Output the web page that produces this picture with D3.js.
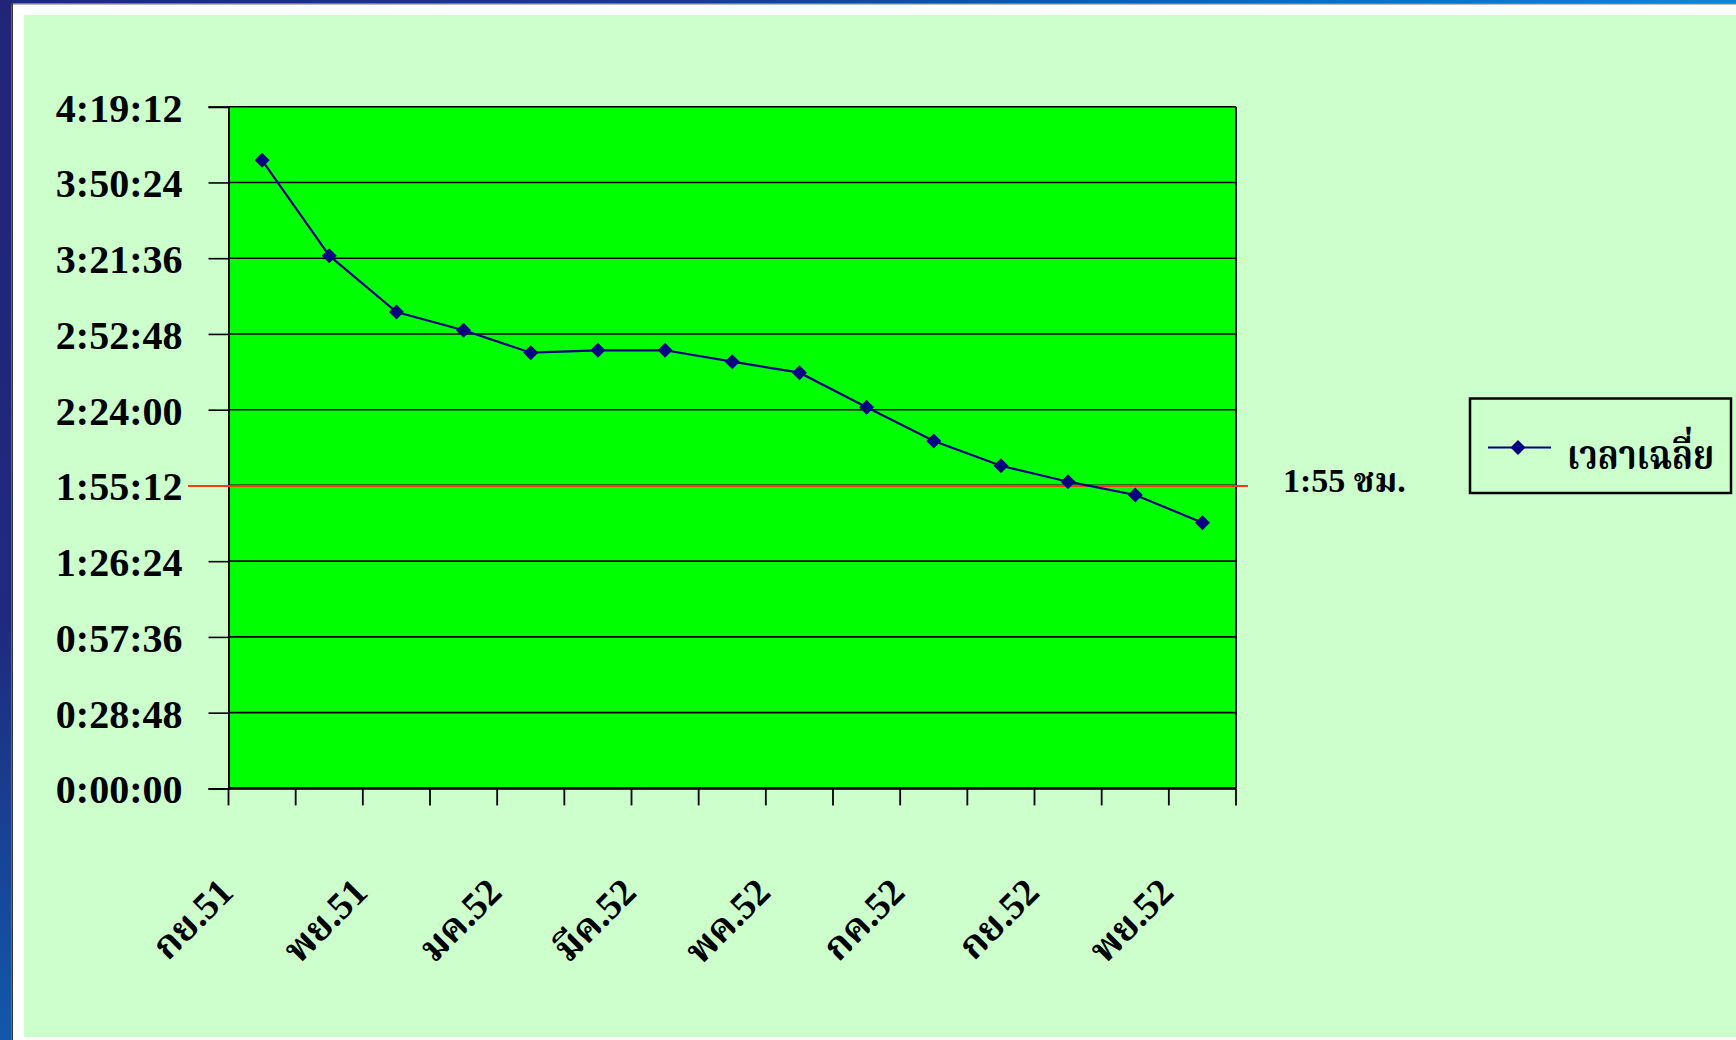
<!DOCTYPE html>
<html><head><meta charset="utf-8">
<script src="https://cdn.jsdelivr.net/npm/d3@7"></script>
<style>body{margin:0;background:#ccffcc;} svg{display:block}</style>
</head><body><svg id="c" width="1736" height="1040"></svg>
<script>
const categories = ["กย.51","ตค.51","พย.51","ธค.51","มค.52","กพ.52","มีค.52","เมย.52","พค.52","มิย.52","กค.52","สค.52","กย.52","ตค.52","พย.52"];
const shownCategories = ["กย.51","พย.51","มค.52","มีค.52","พค.52","กค.52","กย.52","พย.52"];
const avgTime = ["3:58:49","3:22:33","3:01:08","2:54:11","2:45:40","2:46:35","2:46:35","2:42:15","2:38:04","2:24:54","2:12:06","2:02:42","1:56:37","1:51:34","1:41:02"];
const yTickLabels = ["0:00:00","0:28:48","0:57:36","1:26:24","1:55:12","2:24:00","2:52:48","3:21:36","3:50:24","4:19:12"];
const targetTime = "1:55:00";
const targetLabel = "1:55 ชม.";
const seriesName = "เวลาเฉลี่ย";

const toSec = s => { const p = s.split(":").map(Number); return p[0]*3600 + p[1]*60 + p[2]; };
const fmt = v => { const h = Math.floor(v/3600), m = Math.floor((v%3600)/60), s = Math.round(v%60); return h + ":" + String(m).padStart(2,"0") + ":" + String(s).padStart(2,"0"); };

const W = 1736, H = 1040;
const svg = d3.select("#c");
const FONT = "'Liberation Serif','Times New Roman','Noto Serif Thai','Noto Sans Thai',serif";

// slide frame
const defs = svg.append("defs");
const gTop = defs.append("linearGradient").attr("id","gTop").attr("x1","0").attr("x2","1");
gTop.append("stop").attr("offset","0").attr("stop-color","#1d2a78");
gTop.append("stop").attr("offset","0.4").attr("stop-color","#123e8c");
gTop.append("stop").attr("offset","0.75").attr("stop-color","#0c6cc0");
gTop.append("stop").attr("offset","1").attr("stop-color","#0a86d6");
const gLeft = defs.append("linearGradient").attr("id","gLeft").attr("x1","0").attr("x2","0").attr("y1","0").attr("y2","1");
gLeft.append("stop").attr("offset","0").attr("stop-color","#222478");
gLeft.append("stop").attr("offset","0.6").attr("stop-color","#1f2a7e");
gLeft.append("stop").attr("offset","1").attr("stop-color","#1258aa");

svg.append("rect").attr("width",W).attr("height",H).attr("fill","#ccffcc");
svg.append("rect").attr("x",0).attr("y",0).attr("width",W).attr("height",15).attr("fill","#ffffff");
svg.append("rect").attr("x",0).attr("y",0).attr("width",24).attr("height",H).attr("fill","#ffffff");
svg.append("rect").attr("x",0).attr("y",1037).attr("width",W).attr("height",3).attr("fill","#ffffff");
svg.append("rect").attr("x",0).attr("y",0).attr("width",W).attr("height",3).attr("fill","url(#gTop)");
svg.append("rect").attr("x",0).attr("y",3).attr("width",W).attr("height",1.5).attr("fill","#7a7a7a");
svg.append("rect").attr("x",0).attr("y",0).attr("width",11.5).attr("height",H).attr("fill","url(#gLeft)");
svg.append("rect").attr("x",11.5).attr("y",3).attr("width",1.5).attr("height",H).attr("fill","#333333");

// plot geometry
const L = 228.5, R = 1236, T = 106.7, B = 788.4;
const x = d3.scaleBand().domain(categories).range([L, R]).padding(0);
const yMax = toSec(yTickLabels[yTickLabels.length-1]);
const y = d3.scaleLinear().domain([0, yMax]).range([B, T]);
const cx = c => x(c) + x.bandwidth()/2;

svg.append("rect").attr("x",L).attr("y",T).attr("width",R-L).attr("height",B-T).attr("fill","#00ff00");

// gridlines
const yTicks = yTickLabels.map(toSec);
svg.append("g").selectAll("line").data(yTicks).join("line")
  .attr("x1",L).attr("x2",R).attr("y1",d=>y(d)).attr("y2",d=>y(d))
  .attr("stroke","#000").attr("stroke-width",1.6);

// y axis
const yAxis = d3.axisLeft(y).tickValues(yTicks).tickFormat(fmt).tickSize(20).tickPadding(26);
const gy = svg.append("g").attr("transform",`translate(${L},0)`).call(yAxis);
gy.select(".domain").attr("stroke","#000").attr("stroke-width",2);
gy.selectAll(".tick line").attr("stroke","#000").attr("stroke-width",1.6);
gy.selectAll("text").attr("font-family",FONT).attr("font-weight","bold").attr("font-size",40).attr("fill","#000").attr("dy","0.36em");

// right border
svg.append("line").attr("x1",R).attr("x2",R).attr("y1",T).attr("y2",B).attr("stroke","#000").attr("stroke-width",2);

// x axis
const xTickScale = d3.scaleLinear().domain([0, categories.length]).range([L, R]);
const gx = svg.append("g").attr("transform",`translate(0,${B})`);
gx.append("line").attr("x1",L).attr("x2",R).attr("stroke","#000").attr("stroke-width",2.5);
gx.selectAll("line.tk").data(d3.range(categories.length+1)).join("line").attr("class","tk")
  .attr("x1",d=>xTickScale(d)).attr("x2",d=>xTickScale(d)).attr("y1",0).attr("y2",17)
  .attr("stroke","#000").attr("stroke-width",1.8);
gx.selectAll("text").data(shownCategories).join("text")
  .attr("transform",d=>`translate(${cx(d)-27},${106}) rotate(-45)`)
  .attr("text-anchor","end")
  .attr("font-family",FONT).attr("font-weight","bold").attr("font-size",38).attr("fill","#000")
  .text(d=>d);

// target line
const tY = y(toSec(targetTime));
svg.append("line").attr("x1",188).attr("x2",1248).attr("y1",tY).attr("y2",tY).attr("stroke","#ff3a10").attr("stroke-width",2);
svg.append("text").attr("x",1283).attr("y",tY+6).attr("font-family",FONT).attr("font-weight","bold").attr("font-size",34).attr("fill","#000").text(targetLabel);

// series
const data = categories.map((c,i)=>({c, v: toSec(avgTime[i])}));
const NAVY = "#000080";
svg.append("path").datum(data)
  .attr("d", d3.line().x(d=>cx(d.c)).y(d=>y(d.v)))
  .attr("fill","none").attr("stroke",NAVY).attr("stroke-width",2.2);
const diamond = "M0,-7.5L7.5,0L0,7.5L-7.5,0Z";
svg.append("g").selectAll("path").data(data).join("path")
  .attr("d",diamond).attr("transform",d=>`translate(${cx(d.c)},${y(d.v)})`).attr("fill",NAVY);

// legend
const lg = svg.append("g").attr("transform","translate(1470,398.5)");
lg.append("rect").attr("width",261).attr("height",94.5).attr("fill","none").attr("stroke","#000").attr("stroke-width",2.5);
lg.append("line").attr("x1",18).attr("x2",81).attr("y1",49).attr("y2",49).attr("stroke",NAVY).attr("stroke-width",2.2);
lg.append("path").attr("d",diamond).attr("transform","translate(48,49)").attr("fill",NAVY);
const lt = lg.append("g").attr("transform","translate(97,70)");
const ltxt = lt.append("text").attr("x",0).attr("y",0).attr("font-family",FONT).attr("font-weight","bold").attr("font-size",40).attr("fill","#000").text(seriesName);
const natural = ltxt.node().getComputedTextLength() || 147;
lt.attr("transform",`translate(97,70) scale(${Math.min(1, 147/natural)},1)`);
</script></body></html>
